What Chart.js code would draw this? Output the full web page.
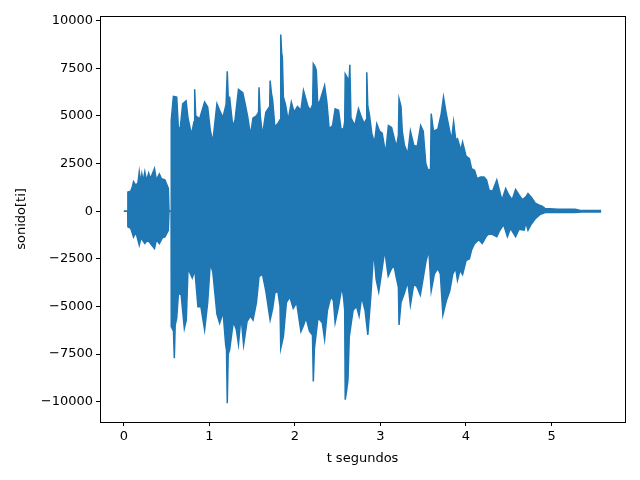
<!DOCTYPE html>
<html>
<head>
<meta charset="utf-8">
<script src="https://cdn.jsdelivr.net/npm/chart.js@4.4.0/dist/chart.umd.min.js"></script>
<style>
  body { margin: 0; background: #fff; }
  #wrap { width: 640px; height: 480px; }
</style>
</head>
<body>
<div id="wrap"><canvas id="sonidoChart" width="640" height="480"></canvas></div>
<script>
// envolvente superior de la señal (t en segundos, amplitud)
var upperT = [
  0.000, 0.045, 0.047, 0.080, 0.100, 0.113, 0.140, 0.165, 0.180, 0.195,
  0.210, 0.225, 0.245, 0.265, 0.290, 0.310, 0.358, 0.380, 0.415, 0.440,
  0.480, 0.520, 0.528, 0.552, 0.554, 0.579, 0.618, 0.638, 0.660, 0.688,
  0.727, 0.750, 0.790, 0.820, 0.828, 0.840, 0.886, 0.944, 0.980, 1.010,
  1.040, 1.088, 1.120, 1.158, 1.195, 1.209, 1.220, 1.236, 1.274, 1.300,
  1.340, 1.390, 1.420, 1.450, 1.480, 1.510, 1.550, 1.575, 1.580, 1.595,
  1.620, 1.660, 1.705, 1.710, 1.725, 1.740, 1.765, 1.800, 1.826, 1.834,
  1.845, 1.853, 1.865, 1.892, 1.920, 1.958, 1.990, 2.030, 2.070, 2.100,
  2.152, 2.180, 2.207, 2.215, 2.235, 2.250, 2.265, 2.280, 2.320, 2.347,
  2.374, 2.400, 2.440, 2.470, 2.510, 2.540, 2.570, 2.582, 2.588, 2.615,
  2.630, 2.642, 2.655, 2.700, 2.743, 2.780, 2.810, 2.832, 2.840, 2.852,
  2.870, 2.899, 2.930, 2.957, 2.990, 3.020, 3.060, 3.093, 3.130, 3.186,
  3.210, 3.217, 3.240, 3.255, 3.280, 3.320, 3.350, 3.390, 3.430, 3.470,
  3.500, 3.530, 3.556, 3.585, 3.593, 3.620, 3.670, 3.710, 3.737, 3.770,
  3.810, 3.830, 3.855, 3.880, 3.900, 3.940, 3.960, 4.000, 4.040, 4.065,
  4.100, 4.130, 4.170, 4.210, 4.240, 4.270, 4.310, 4.360, 4.390, 4.420,
  4.464, 4.500, 4.540, 4.580, 4.620, 4.660, 4.700, 4.725, 4.770, 4.810,
  4.850, 4.890, 4.926, 5.080, 5.275, 5.350, 5.580];
var upperV = [
  0, 0, 1010, 1050, 1300, 1550, 1350, 1500, 2060, 1500,
  1950, 1550, 2060, 1600, 2000, 1700, 2240, 1650, 1950, 1700,
  1650, 1200, 0, 0, 4770, 6030, 5990, 4330, 4400, 5640,
  5800, 4890, 4020, 4700, 6400, 5000, 4850, 5730, 5470, 4260,
  3640, 5640, 5290, 4920, 5600, 7350, 6000, 5990, 4430, 4800,
  6400, 6220, 5600, 4900, 4000, 4890, 5000, 5200, 6510, 5000,
  3980, 5200, 5500, 6860, 6200, 5820, 4420, 4600, 4800, 9280,
  8300, 8090, 6000, 5550, 4770, 5730, 5200, 5500, 5300, 6340,
  5500, 5300, 5600, 7740, 7600, 7390, 5800, 5600, 6200, 6600,
  5700, 4330, 4500, 5380, 5300, 4290, 4350, 4700, 7210, 7000,
  6600, 7690, 4900, 4500, 5380, 4900, 4600, 4800, 7300, 5500,
  5100, 4070, 3590, 4590, 4200, 4100, 3020, 4500, 4400, 3370,
  4000, 5900, 5500, 4200, 3460, 3020, 4210, 3450, 3400, 4500,
  4200, 2500, 2150, 2200, 5120, 4200, 4300, 5100, 5990, 5100,
  4200, 3700, 4700, 3750, 3810, 3200, 3630, 2900, 2760, 2240,
  2150, 1710, 1800, 1800, 1650, 1100, 1050, 1640, 1100, 580,
  1190, 850, 600, 1140, 850, 600, 750, 930, 700, 420,
  330, 260, 140, 100, 100, 30, 30];

// envolvente inferior
var lowerT = [
  0.000, 0.045, 0.047, 0.080, 0.113, 0.140, 0.180, 0.200, 0.245, 0.280,
  0.320, 0.358, 0.380, 0.415, 0.450, 0.480, 0.520, 0.528, 0.552, 0.554,
  0.580, 0.590, 0.600, 0.618, 0.638, 0.670, 0.707, 0.730, 0.750, 0.800,
  0.830, 0.847, 0.866, 0.900, 0.944, 0.980, 1.010, 1.040, 1.088, 1.120,
  1.160, 1.190, 1.200, 1.209, 1.220, 1.236, 1.280, 1.314, 1.340, 1.370,
  1.400, 1.440, 1.480, 1.510, 1.550, 1.580, 1.620, 1.660, 1.710, 1.740,
  1.765, 1.800, 1.826, 1.834, 1.865, 1.900, 1.940, 1.980, 2.020, 2.070,
  2.100, 2.130, 2.170, 2.205, 2.215, 2.228, 2.270, 2.320, 2.347, 2.380,
  2.420, 2.450, 2.470, 2.510, 2.550, 2.570, 2.582, 2.588, 2.605, 2.620,
  2.635, 2.680, 2.720, 2.750, 2.780, 2.820, 2.852, 2.890, 2.920, 2.950,
  2.980, 3.020, 3.050, 3.090, 3.130, 3.160, 3.186, 3.210, 3.217, 3.240,
  3.280, 3.320, 3.350, 3.390, 3.430, 3.466, 3.500, 3.530, 3.566, 3.593,
  3.630, 3.670, 3.700, 3.730, 3.770, 3.810, 3.845, 3.880, 3.900, 3.930,
  3.960, 4.000, 4.040, 4.065, 4.100, 4.150, 4.190, 4.240, 4.280, 4.360,
  4.390, 4.440, 4.484, 4.520, 4.580, 4.620, 4.680, 4.700, 4.725, 4.760,
  4.810, 4.870, 4.926, 5.275, 5.350, 5.580];
var lowerV = [
  0, 0, -820, -900, -1350, -1100, -1780, -1400, -1700, -1500,
  -1750, -1960, -1500, -1700, -1400, -1350, -1000, 0, 0, -6060,
  -6300, -7720, -6000, -5600, -4310, -4400, -6150, -5710, -3000, -3500,
  -3100, -4000, -5010, -5000, -6240, -4800, -2740, -3200, -5410, -5880,
  -5300, -7000, -7300, -10080, -7500, -7290, -5800, -6200, -6980, -5500,
  -7030, -5800, -5500, -5710, -4800, -3440, -3300, -4200, -5710, -5100,
  -4300, -4200, -5000, -7200, -6590, -4800, -4500, -5100, -4800, -6320,
  -6000, -5600, -6300, -6500, -8940, -7200, -5600, -5860, -6730, -5200,
  -4500, -4700, -5860, -5000, -3950, -4600, -5200, -9900, -9400, -8860,
  -6600, -5200, -5000, -5500, -4500, -5200, -6500, -4300, -2040, -3600,
  -4230, -3000, -2040, -3400, -3000, -2900, -3500, -4000, -5970, -4800,
  -4300, -3700, -4930, -3800, -4000, -4400, -3500, -2670, -2040, -4190,
  -3300, -3000, -3300, -5450, -4700, -4200, -3300, -3000, -3620, -3100,
  -3330, -2600, -2500, -2040, -1700, -1500, -1700, -1300, -1150, -1340,
  -1050, -700, -1340, -900, -1340, -950, -1000, -600, -1000, -700,
  -400, -160, -70, -70, -40, -40];

var xTicks = [0, 1, 2, 3, 4, 5];
var yTicks = [-10000, -7500, -5000, -2500, 0, 2500, 5000, 7500, 10000];

function toPoints(ts, vs) {
  return ts.map(function (t, i) { return { x: t, y: vs[i] }; });
}

// marco completo alrededor del área del gráfico
var framePlugin = {
  id: 'frame',
  afterDraw: function (chart) {
    var a = chart.chartArea;
    var c = chart.ctx;
    c.save();
    c.strokeStyle = '#000';
    c.lineWidth = 1;
    c.strokeRect(Math.round(a.left) + 0.5, Math.round(a.top) + 0.5, Math.round(a.right - a.left), Math.round(a.bottom - a.top));
    c.restore();
  }
};

Chart.defaults.font.family = 'DejaVu Sans';
Chart.defaults.font.size = 13;
Chart.defaults.color = '#000';

var ctx = document.getElementById('sonidoChart').getContext('2d');
var sonidoChart = new Chart(ctx, {
  type: 'line',
  data: {
    datasets: [
      {
        label: 'sonido sup',
        data: toPoints(upperT, upperV),
        borderColor: '#1f77b4',
        backgroundColor: '#1f77b4',
        borderWidth: 1.5,
        pointRadius: 0,
        fill: '+1',
        tension: 0,
      },
      {
        label: 'sonido inf',
        data: toPoints(lowerT, lowerV),
        borderColor: '#1f77b4',
        backgroundColor: '#1f77b4',
        borderWidth: 1.5,
        pointRadius: 0,
        fill: false,
        tension: 0,
      },
    ],
  },
  options: {
    responsive: false,
    animation: false,
    layout: { padding: { top: 16, right: 15, left: 0, bottom: 0 } },
    plugins: { legend: { display: false }, tooltip: { enabled: false } },
    scales: {
      x: {
        type: 'linear',
        min: -0.279,
        max: 5.859,
        afterBuildTicks: function (scale) {
          scale.ticks = xTicks.map(function (v) { return { value: v }; });
        },
        afterFit: function (scale) { scale.height = 58; },
        ticks: { padding: 3, maxRotation: 0, callback: function (v) { return String(v); } },
        grid: { drawOnChartArea: false, drawTicks: true, tickLength: 4, color: '#000' },
        border: { display: true, color: '#000' },
        title: { display: true, text: 't segundos', padding: { top: 4, bottom: 14 } },
      },
      y: {
        type: 'linear',
        min: -11070,
        max: 10250,
        afterBuildTicks: function (scale) {
          scale.ticks = yTicks.map(function (v) { return { value: v }; });
        },
        afterFit: function (scale) { scale.width = 100; },
        ticks: {
          padding: 3,
          callback: function (v) { return v < 0 ? '\u2212' + Math.abs(v) : String(v); },
        },
        grid: { drawOnChartArea: false, drawTicks: true, tickLength: 4, color: '#000' },
        border: { display: true, color: '#000' },
        title: { display: true, text: 'sonido[ti]', padding: { top: 14, bottom: 0 } },
      },
    },
  },
  plugins: [framePlugin],
});
</script>
</body>
</html>
